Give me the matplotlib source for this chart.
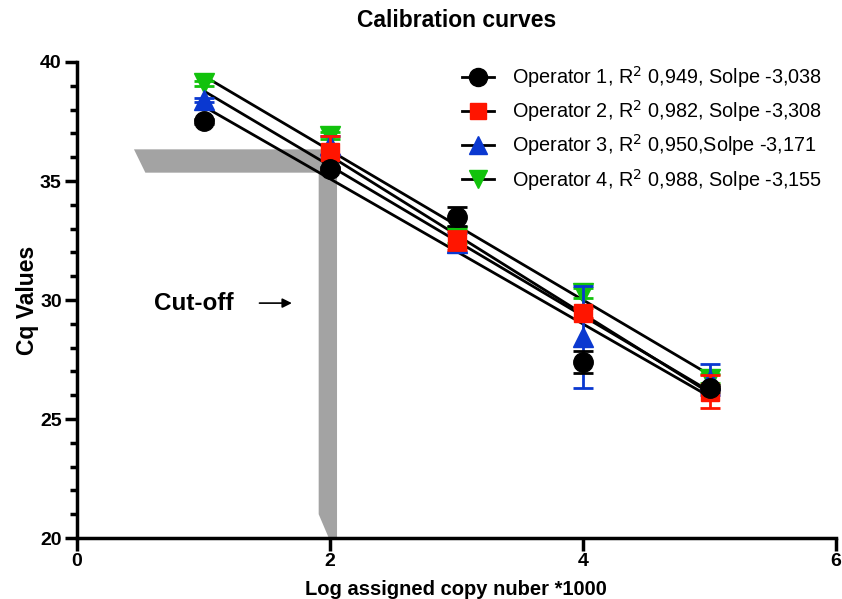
import numpy as np
import matplotlib
matplotlib.use("Agg")
import matplotlib.pyplot as plt
from matplotlib.lines import Line2D
from matplotlib.patches import Polygon

plt.rcParams['font.family'] = ['Liberation Sans', 'DejaVu Sans']

# ---- data ----
log_copies = [1, 2, 3, 4, 5]
op1_cq = [37.5, 35.5, 33.5, 27.4, 26.3]
op1_err = [0.1, 0.1, 0.4, 0.45, 0.15]
op2_cq = [np.nan, 36.2, 32.5, 29.45, 26.15]
op2_err = [np.nan, 0.7, 0.4, 0.2, 0.7]
op3_cq = [38.4, 36.5, 32.4, 28.45, 26.65]
op3_err = [0.1, 0.4, 0.4, 2.15, 0.65]
op4_cq = [39.1, 36.9, 32.7, 30.3, 26.7]
op4_err = [0.1, 0.15, 0.3, 0.2, 0.2]

labels = [
    "Operator 1, R$^2$ 0,949, Solpe -3,038",
    "Operator 2, R$^2$ 0,982, Solpe -3,308",
    "Operator 3, R$^2$ 0,950,Solpe -3,171",
    "Operator 4, R$^2$ 0,988, Solpe -3,155",
]
x_ticks = [0, 2, 4, 6]
y_ticks = [20, 25, 30, 35, 40]

# cut-off annotation (grey band)
cutoff_log = 2.0
cutoff_cq = 35.85

series = [
    (op1_cq, op1_err, 'o', '#000000', 14, 6),
    (op2_cq, op2_err, 's', '#ff1500', 13, 5),
    (op3_cq, op3_err, '^', '#0a38d0', 14, 4),
    (op4_cq, op4_err, 'v', '#12c20c', 14, 3),
]

fig = plt.figure(figsize=(8.42, 5.99), dpi=100)
ax = fig.add_axes([0.0915, 0.1018, 0.9015, 0.7947])

# grey cut-off band
band = Polygon([
    (0.45, cutoff_cq + 0.48), (cutoff_log + 0.055, cutoff_cq + 0.48),
    (cutoff_log + 0.055, 20), (cutoff_log - 0.01, 20),
    (cutoff_log - 0.09, 21.0), (cutoff_log - 0.09, cutoff_cq - 0.5),
    (0.54, cutoff_cq - 0.5)], closed=True, facecolor='#a3a3a3',
    edgecolor='none', zorder=1)
ax.add_patch(band)

x = np.array(log_copies, dtype=float)
handles = []
for cq, err, mk, col, ms, z in series:
    y = np.array(cq, dtype=float)
    e = np.array(err, dtype=float)
    ok = ~np.isnan(y)
    slope, icpt = np.polyfit(x[ok], y[ok], 1)
    xf = np.array([x[ok].min(), x[ok].max()])
    ax.plot(xf, slope * xf + icpt, color='black', lw=2, zorder=2, solid_capstyle='butt')
    ax.errorbar(x[ok], y[ok], yerr=e[ok], fmt=mk, color=col, ms=ms,
                mec=col, mfc=col, ecolor=col, elinewidth=2, capsize=7,
                capthick=2, zorder=z)
    handles.append(Line2D([], [], color='black', lw=2, marker=mk, ms=ms - 1,
                          mfc=col, mec=col))

ax.legend(handles, labels, loc='upper right', bbox_to_anchor=(1.0, 1.025),
          frameon=False, fontsize=14.3, handlelength=1.6, labelspacing=0.42,
          handletextpad=0.9, borderaxespad=0.3)

ax.set_xlim(0, 6)
ax.set_ylim(20, 40)
ax.set_xticks(x_ticks)
ax.set_yticks(y_ticks)
ax.set_yticks(np.arange(20, 41, 1), minor=True)
for s in ['top', 'right']:
    ax.spines[s].set_visible(False)
for s in ['left', 'bottom']:
    ax.spines[s].set_linewidth(2.5)
ax.tick_params(which='major', length=9, width=2.5, labelsize=14, pad=2)
ax.tick_params(which='minor', length=5, width=2.5)
for lab in ax.get_xticklabels() + ax.get_yticklabels():
    lab.set_fontweight('bold')

ax.set_ylabel("Cq Values", fontsize=16.5, fontweight='bold', labelpad=1)
fig.text(0.542, 0.016, "Log assigned copy nuber *1000", fontsize=14.5,
         fontweight='bold', ha='center', va='center')
fig.text(0.542, 0.965, "Calibration curves", fontsize=16.5, fontweight='bold',
         ha='center', va='center')

ax.text(0.92, 29.87, "Cut-off", fontsize=17.5, fontweight='bold', ha='center', va='center')
ax.annotate("", xy=(1.72, 29.87), xytext=(1.42, 29.87),
            arrowprops=dict(arrowstyle='-|>', color='black', lw=1.2, mutation_scale=14))

fig.savefig("out.png", dpi=100)
